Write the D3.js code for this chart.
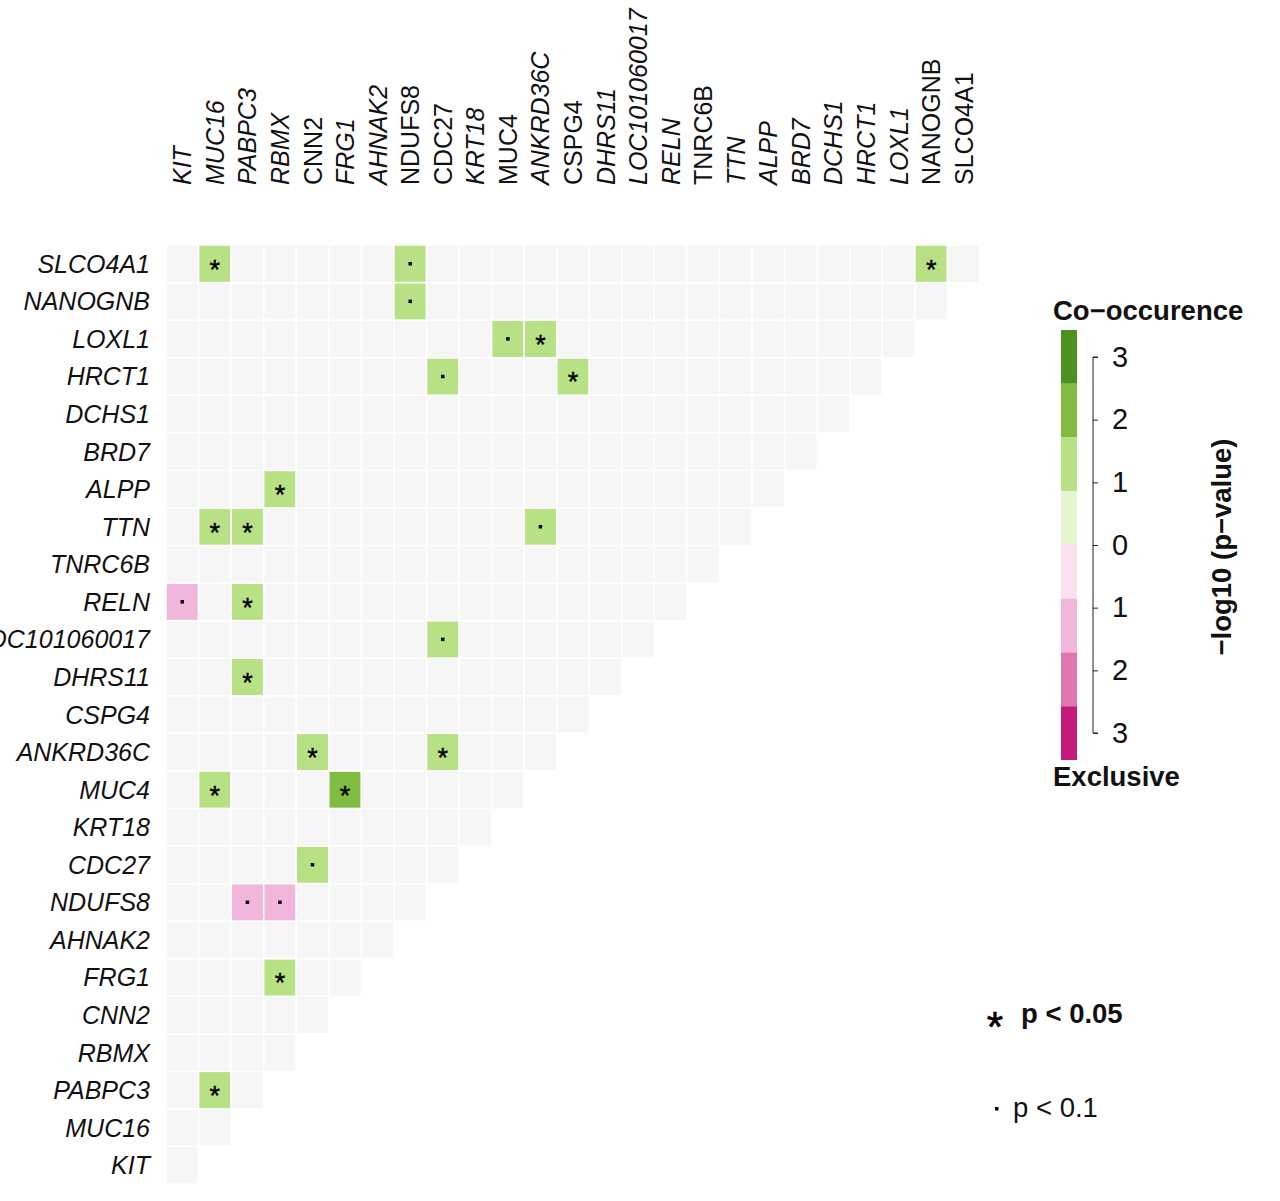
<!DOCTYPE html>
<html>
<head>
<meta charset="utf-8">
<script src="https://cdn.jsdelivr.net/npm/d3@7"></script>
<style>
  html, body { margin: 0; padding: 0; background: #fff; }
  svg { display: block; font-family: "Liberation Sans", Arial, sans-serif; }
</style>
</head>
<body>
<svg id="chart" width="1280" height="1201"></svg>
<script>
// ---------------- DATA ----------------
// gene order along the x axis (left to right); rows use the reverse order (top to bottom)
const genes = ["KIT","MUC16","PABPC3","RBMX","CNN2","FRG1","AHNAK2","NDUFS8","CDC27","KRT18",
  "MUC4","ANKRD36C","CSPG4","DHRS11","LOC101060017","RELN","TNRC6B","TTN","ALPP","BRD7",
  "DCHS1","HRCT1","LOXL1","NANOGNB","SLCO4A1"];

// significant pairs: row gene, column gene, p-value, sign (+1 co-occurrence, -1 exclusive)
const pairRow = ["SLCO4A1","SLCO4A1","SLCO4A1","NANOGNB","LOXL1","LOXL1","HRCT1","HRCT1","ALPP",
  "TTN","TTN","TTN","RELN","RELN","LOC101060017","DHRS11","ANKRD36C","ANKRD36C","MUC4","MUC4",
  "CDC27","NDUFS8","NDUFS8","FRG1","PABPC3"];
const pairCol = ["MUC16","NDUFS8","NANOGNB","NDUFS8","MUC4","ANKRD36C","CDC27","CSPG4","RBMX",
  "MUC16","PABPC3","ANKRD36C","KIT","PABPC3","CDC27","PABPC3","CNN2","CDC27","MUC16","FRG1",
  "CNN2","PABPC3","RBMX","RBMX","MUC16"];
const pairPval = [0.03,0.07,0.03,0.07,0.07,0.03,0.07,0.03,0.03,
  0.03,0.03,0.07,0.07,0.03,0.07,0.03,0.03,0.03,0.03,0.006,
  0.07,0.07,0.07,0.03,0.03];
const pairSign = [1,1,1,1,1,1,1,1,1,
  1,1,1,-1,1,1,1,1,1,1,1,
  1,-1,-1,1,1];

// legend
const legendTicks = [3,2,1,0,-1,-2,-3];
const legendTickLabels = ["3","2","1","0","1","2","3"];
const legendBins = [4,3,2,1,0,-1,-2,-3]; // top edge of each colour block (value)
const binColors = ["#c51b7d","#de77ae","#f1b6da","#fde0ef","#e6f5d0","#b8e186","#7fbc41","#4d9221"];
const sigLevels = [0.05, 0.1];

// label styling (column labels drawn upright in the original)
const uprightCols = new Set(["CNN2","NDUFS8","CDC27","MUC4","CSPG4","TNRC6B","NANOGNB","SLCO4A1"]);

// ---------------- CHART ----------------
const svg = d3.select("#chart");
const rowsOrder = genes.slice().reverse();

const x = d3.scaleBand().domain(genes).range([166, 980]).paddingInner(0);
const y = d3.scaleBand().domain(rowsOrder).range([245, 1184]).paddingInner(0);
const color = d3.scaleThreshold().domain([-3,-2,-1,0,1,2,3]).range(binColors);

// background grid (lower triangle including diagonal)
const grid = [];
genes.forEach((rg, ri) => {
  for (let ci = 0; ci <= ri; ci++) grid.push({row: rg, col: genes[ci]});
});
const sigMap = new Map();
pairRow.forEach((r, i) => {
  const v = pairSign[i] * -Math.log10(pairPval[i]);
  sigMap.set(r + "|" + pairCol[i], {row: r, col: pairCol[i], v, p: pairPval[i]});
});

svg.append("g").selectAll("rect").data(grid).join("rect")
  .attr("x", d => x(d.col))
  .attr("y", d => y(d.row))
  .attr("width", x.bandwidth())
  .attr("height", y.bandwidth())
  .attr("fill", d => {
    const s = sigMap.get(d.row + "|" + d.col);
    return s ? color(s.v) : "#f6f6f6";
  })
  .attr("stroke", "#ffffff")
  .attr("stroke-width", 1.5);

const sigs = Array.from(sigMap.values());
// asterisks
svg.append("g").selectAll("text").data(sigs.filter(d => d.p < sigLevels[0])).join("text")
  .attr("x", d => x(d.col) + x.bandwidth() / 2)
  .attr("y", d => y(d.row) + y.bandwidth() / 2 + 15)
  .attr("text-anchor", "middle")
  .attr("font-size", 27)
  .attr("fill", "#000")
  .attr("stroke", "#000").attr("stroke-width", 0.4)
  .text("*");
// dots
svg.append("g").selectAll("rect").data(sigs.filter(d => d.p >= sigLevels[0] && d.p < sigLevels[1])).join("rect")
  .attr("x", d => x(d.col) + x.bandwidth() / 2 - 1.75)
  .attr("y", d => y(d.row) + y.bandwidth() / 2 - 1.75)
  .attr("width", 3.5).attr("height", 3.5)
  .attr("fill", "#000");

// row labels
svg.append("g").selectAll("text").data(rowsOrder).join("text")
  .attr("x", 150)
  .attr("y", d => y(d) + y.bandwidth() / 2)
  .attr("dy", "0.36em")
  .attr("text-anchor", "end")
  .attr("font-size", 25)
  .attr("font-style", "italic")
  .attr("fill", "#111")
  .text(d => d);

// column labels
svg.append("g").selectAll("text").data(genes).join("text")
  .attr("transform", d => `translate(${x(d) + x.bandwidth() / 2 + 9},185) rotate(-90)`)
  .attr("text-anchor", "start")
  .attr("font-size", 25)
  .attr("font-style", d => uprightCols.has(d) ? "normal" : "italic")
  .attr("fill", "#111")
  .text(d => d);

// ---------------- LEGEND ----------------
const lg = svg.append("g");
const by = d3.scaleLinear().domain([4, -4]).range([330, 760]);
lg.selectAll("rect").data(legendBins).join("rect")
  .attr("x", 1061).attr("width", 16)
  .attr("y", d => by(d))
  .attr("height", d => by(d - 1) - by(d))
  .attr("fill", (d, i) => binColors[binColors.length - 1 - i]);

const ty = d3.scaleLinear().domain([3, -3]).range([357, 733]);
const axis = d3.axisRight(ty).tickValues(legendTicks).tickSize(5).tickPadding(14)
  .tickFormat((d, i) => legendTickLabels[i]);
const ag = lg.append("g").attr("transform", "translate(1093,0)").call(axis);
ag.select(".domain").attr("stroke", "#222").attr("d", "M5,357H0V733H5");
ag.selectAll(".tick line").attr("stroke", "#222");
ag.selectAll(".tick text").attr("font-size", 29).attr("fill", "#111")
  .attr("font-family", "Liberation Sans, Arial, sans-serif");

lg.append("text").attr("x", 1053).attr("y", 320).attr("font-size", 27.5).attr("font-weight", "bold")
  .attr("fill", "#111").text("Co\u2212occurence");
lg.append("text").attr("x", 1053).attr("y", 786).attr("font-size", 27.5).attr("font-weight", "bold")
  .attr("fill", "#111").text("Exclusive");
lg.append("text").attr("transform", "translate(1231,547) rotate(-90)").attr("text-anchor", "middle")
  .attr("font-size", 27.5).attr("font-weight", "bold").attr("fill", "#111")
  .text("\u2212log10 (p\u2212value)");

// significance legend
lg.append("text").attr("x", 995).attr("y", 1041).attr("text-anchor", "middle")
  .attr("font-size", 42).attr("fill", "#000").attr("stroke", "#000").attr("stroke-width", 0.6).text("*");
lg.append("text").attr("x", 1021).attr("y", 1023).attr("font-size", 27.5).attr("font-weight", "bold")
  .attr("fill", "#111").text("p < " + sigLevels[0].toFixed(2));
lg.append("rect").attr("x", 995).attr("y", 1107).attr("width", 3.5).attr("height", 3.5).attr("fill", "#000");
lg.append("text").attr("x", 1013).attr("y", 1117).attr("font-size", 27.5)
  .attr("fill", "#111").text("p < " + sigLevels[1]);
</script>
</body>
</html>
